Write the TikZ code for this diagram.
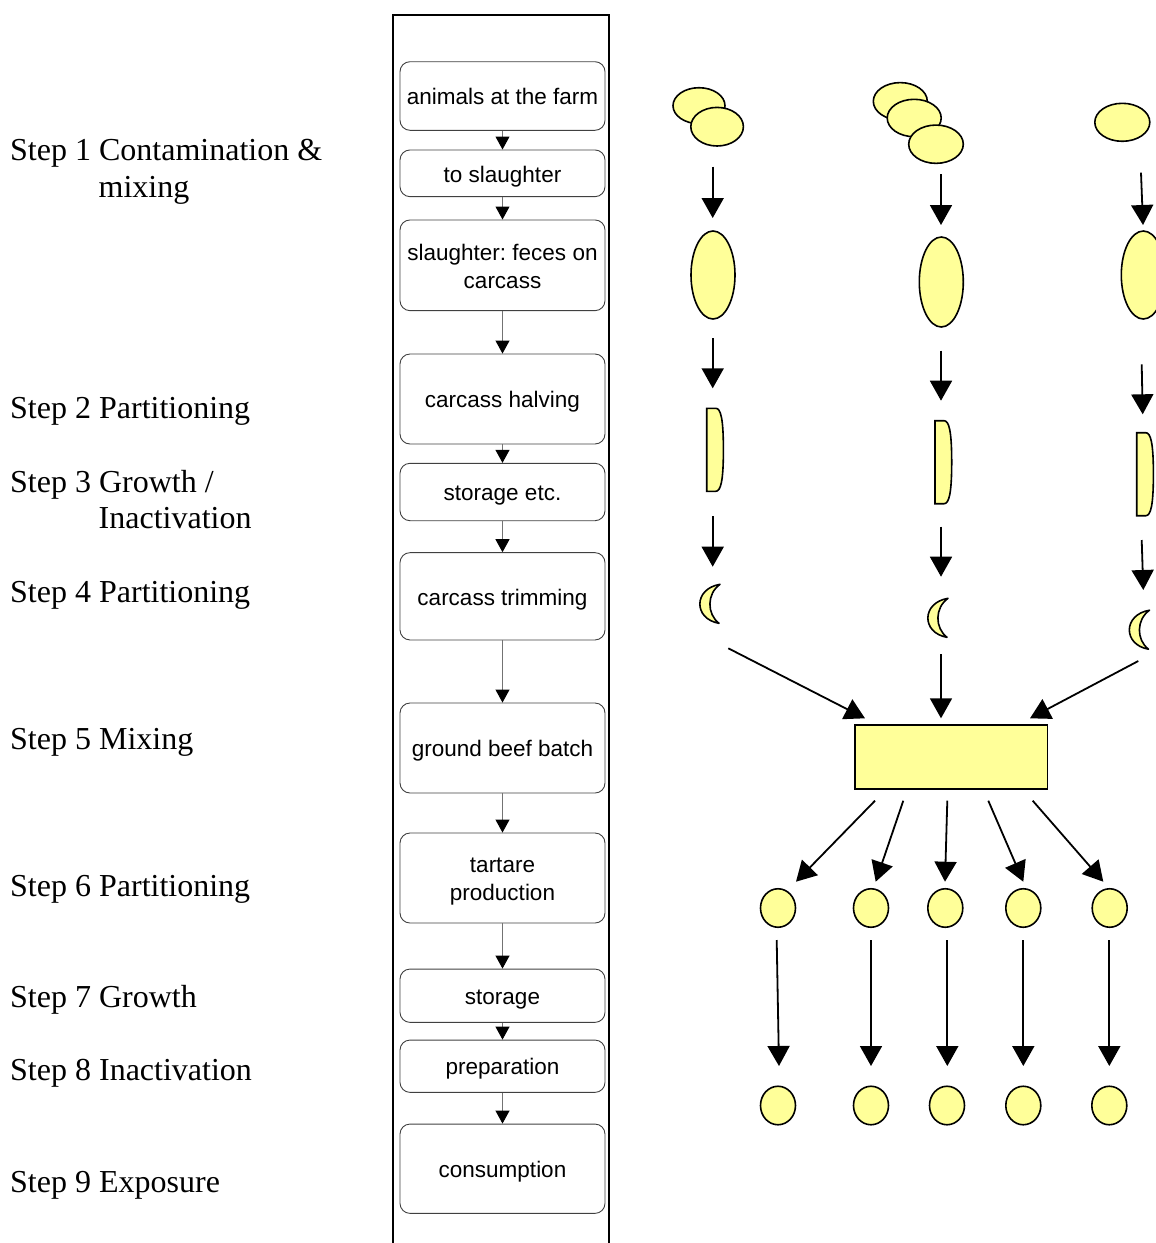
\documentclass[tikz,border=0pt]{standalone}
\usepackage{fontspec}
\setmainfont{Liberation Serif}
\setsansfont{Liberation Sans}
\usetikzlibrary{arrows.meta,shapes.geometric}
\definecolor{cheese}{HTML}{FFFF99}
\frenchspacing

% half carcass: flat left side, bulging right side (top-left x, y)
\newcommand\halfpiece[2]{%
  \draw[piece] (#1,#2) -- (#1+9,#2)
    .. controls (#1+14,#2) and (#1+16.7,#2+10) .. (#1+16.7,#2+41.5)
    .. controls (#1+16.7,#2+73) and (#1+14,#2+83) .. (#1+9,#2+83)
    -- (#1,#2+83) -- cycle;}
% trimming: crescent opening to the right (centre x, y)
\newcommand\moonpiece[2]{%
  \draw[piece,line join=round] (#1+10,#2-19.5)
    .. controls (#1-16.7,#2-15) and (#1-16.7,#2+15) .. (#1+9,#2+19.5)
    .. controls (#1-3.3,#2+10) and (#1-3.3,#2-10) .. (#1+10,#2-19.5) -- cycle;}
% box labels with a fixed height and depth so that all baselines sit alike
\newcommand\oneline[1]{\raisebox{0pt}[17.4pt][0pt]{#1}}
\newcommand\twolines[2]{\raisebox{0pt}[17.4pt][28pt]{\begin{tabular}[t]{@{}c@{}}#1\\#2\end{tabular}}}

\begin{document}
\begin{tikzpicture}[x=1pt,y=-1pt,
  steplabel/.style={anchor=base west,inner sep=0pt,font=\fontsize{32}{37}\selectfont},
  stagebox/.style={draw=black!75,line width=0.9pt,rounded corners=10pt,minimum width=205pt,
    inner sep=0pt,font=\sffamily\fontsize{22.5}{28}\selectfont},
  flow/.style={draw=black!55,line width=1pt,-{Triangle[width=14pt,length=13pt,color=black]}},
  piece/.style={draw=black,line width=1.6pt,fill=cheese},
  blob/.style={piece,ellipse,inner sep=0pt},
  dot/.style={blob,minimum width=35pt,minimum height=38.5pt},
  bigarrow/.style={draw=black,line width=1.8pt,-{Triangle[width=22pt,length=20pt]}},
]
\useasboundingbox (0,0) rectangle (1156,1243);

% ---------- step labels ----------
\node[steplabel] (s1)  at (10,160.5)   {Step 1 Contamination \&};
\node[steplabel] (s1b) at (98.5,197)   {mixing};
\node[steplabel] (s2)  at (10,418.5)   {Step 2 Partitioning};
\node[steplabel] (s3)  at (10,492)     {Step 3 Growth /};
\node[steplabel] (s3b) at (98.5,528.5) {Inactivation};
\node[steplabel] (s4)  at (10,602.5)   {Step 4 Partitioning};
\node[steplabel] (s5)  at (10,749.5)   {Step 5 Mixing};
\node[steplabel] (s6)  at (10,896.5)   {Step 6 Partitioning};
\node[steplabel] (s7)  at (10,1007.5)  {Step 7 Growth};
\node[steplabel] (s8)  at (10,1080.5)  {Step 8 Inactivation};
\node[steplabel] (s9)  at (10,1192.5)  {Step 9 Exposure};

% ---------- process column ----------
\draw[line width=1.8pt] (392.7,1244) -- (392.7,15) -- (609.3,15) -- (609.3,1244);

\node[stagebox,minimum height=68.6pt] (b1)  at (502.5,96)     {\oneline{animals at the farm}};
\node[stagebox,minimum height=46.7pt] (b2)  at (502.5,173.3)  {\oneline{to slaughter}};
\node[stagebox,minimum height=90.7pt] (b3)  at (502.5,265.3)  {\twolines{slaughter: feces on}{carcass}};
\node[stagebox,minimum height=90pt]   (b4)  at (502.5,399)    {\oneline{carcass halving}};
\node[stagebox,minimum height=57.4pt] (b5)  at (502.5,492)    {\oneline{storage etc.}};
\node[stagebox,minimum height=87.3pt] (b6)  at (502.5,596.3)  {\oneline{carcass trimming}};
\node[stagebox,minimum height=90pt]   (b7)  at (502.5,748)    {\oneline{ground beef batch}};
\node[stagebox,minimum height=90pt]   (b8)  at (502.5,878)    {\twolines{tartare}{production}};
\node[stagebox,minimum height=53.3pt] (b9)  at (502.5,995.7)  {\oneline{storage}};
\node[stagebox,minimum height=52.3pt] (b10) at (502.5,1066.2) {\oneline{preparation}};
\node[stagebox,minimum height=89.3pt] (b11) at (502.5,1168.7) {\oneline{consumption}};

\foreach \a/\b in {b1/b2,b2/b3,b3/b4,b4/b5,b5/b6,b6/b7,b7/b8,b8/b9,b9/b10,b10/b11}
  \draw[flow] (\a) -- (\b);

% ---------- animals ----------
\node[blob,minimum width=52pt,minimum height=36pt]     (p1a) at (699,105.7)    {};
\node[blob,minimum width=52.6pt,minimum height=38.6pt] (p1b) at (717.1,126.7)  {};
\node[blob,minimum width=54pt,minimum height=37.4pt]   (p2a) at (900.3,101.3)  {};
\node[blob,minimum width=54pt,minimum height=37.4pt]   (p2b) at (914.2,118)    {};
\node[blob,minimum width=54.6pt,minimum height=38.3pt] (p2c) at (936,144.2)    {};
\node[blob,minimum width=55pt,minimum height=38pt]     (p3a) at (1122.3,122.3) {};

% ---------- carcasses ----------
\node[blob,minimum width=44pt,minimum height=88pt] (q1) at (713,275)    {};
\node[blob,minimum width=44pt,minimum height=90pt] (q2) at (941.3,282)  {};
\node[blob,minimum width=44pt,minimum height=88pt] (q3) at (1143.3,275) {};

% ---------- halves and trimmings ----------
\halfpiece{706.7}{408.3}
\halfpiece{935}{420.7}
\halfpiece{1136.7}{432.7}
\moonpiece{710}{603.8}
\moonpiece{938}{617.8}
\moonpiece{1139.5}{629.7}

% ---------- batch and portions ----------
\node[piece,rectangle,minimum width=192.3pt,minimum height=64pt,inner sep=0pt] (mix) at (951.2,757) {};

\foreach \i/\x in {1/778,2/871,3/945.3,4/1023.3,5/1109.7}
  \node[dot] (r\i) at (\x,908) {};
\foreach \i/\x in {1/778,2/871,3/947,4/1023.3,5/1109.3}
  \node[dot] (t\i) at (\x,1105.5) {};

% ---------- arrow end points ----------
\coordinate (a1s) at (712.7,166.7);  \coordinate (a1e) at (712.7,218);
\coordinate (a2s) at (941,174.3);    \coordinate (a2e) at (941,225);
\coordinate (a3s) at (1141,172.7);   \coordinate (a3e) at (1143,225);
\coordinate (h1s) at (712.7,338.3);  \coordinate (h1e) at (712.7,388.3);
\coordinate (h2s) at (941,350.7);    \coordinate (h2e) at (941,400.7);
\coordinate (h3s) at (1141.7,364.3); \coordinate (h3e) at (1142.7,414.3);
\coordinate (m1s) at (712.7,516);    \coordinate (m1e) at (712.7,566.7);
\coordinate (m2s) at (941,526.7);    \coordinate (m2e) at (941,576.7);
\coordinate (m3s) at (1141.7,540);   \coordinate (m3e) at (1143.3,590);
\coordinate (x1s) at (728.3,648.3);  \coordinate (x1e) at (865,718.3);
\coordinate (x2s) at (941,654);      \coordinate (x2e) at (941,718.3);
\coordinate (x3s) at (1138.3,661);   \coordinate (x3e) at (1030,718.3);
\coordinate (f1s) at (875,800.7);    \coordinate (f1e) at (796,881.7);
\coordinate (f2s) at (903.3,800.7);  \coordinate (f2e) at (875.7,881.7);
\coordinate (f3s) at (947.3,800.7);  \coordinate (f3e) at (945,881.7);
\coordinate (f4s) at (988.3,800.7);  \coordinate (f4e) at (1023.3,881.7);
\coordinate (f5s) at (1032.7,800.7); \coordinate (f5e) at (1103.3,881.7);
\coordinate (g1s) at (776.7,940);    \coordinate (g1e) at (779,1066);
\coordinate (g2s) at (871,940);      \coordinate (g2e) at (871,1066);
\coordinate (g3s) at (947.3,940);    \coordinate (g3e) at (947.3,1066);
\coordinate (g4s) at (1023.3,940);   \coordinate (g4e) at (1023.3,1066);
\coordinate (g5s) at (1109.3,940);   \coordinate (g5e) at (1109.3,1066);

\foreach \n in {a1,a2,a3,h1,h2,h3,m1,m2,m3,x1,x2,x3,f1,f2,f3,f4,f5,g1,g2,g3,g4,g5}
  \draw[bigarrow] (\n s) -- (\n e);
\end{tikzpicture}
\end{document}
